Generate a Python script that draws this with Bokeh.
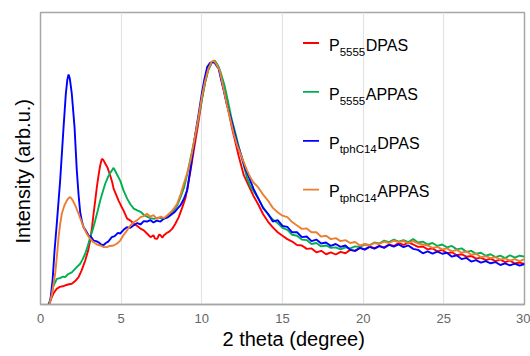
import math
from bokeh.plotting import figure
from bokeh.models import Range1d, FixedTicker, Label, Title
from bokeh.embed import file_html
from bokeh.resources import INLINE

# ---------------- data ----------------
theta_ticks = [0, 5, 10, 15, 20, 25, 30]

# shared 2-theta positions for the tails (13.2 .. 30.0)
tail_theta = [13.2, 13.5, 13.8, 14.1, 14.4, 14.7, 15.0, 15.3, 15.6, 15.9, 16.2, 16.5,
              16.8, 17.1, 17.4, 17.7, 18.0, 18.3, 18.6, 18.9, 19.2, 19.5, 19.8, 20.1,
              20.4, 20.7, 21.0, 21.3, 21.6, 21.9, 22.2, 22.5, 22.8, 23.1, 23.4, 23.7,
              24.0, 24.3, 24.6, 24.9, 25.2, 25.5, 25.8, 26.1, 26.4, 26.7, 27.0, 27.3,
              27.6, 27.9, 28.2, 28.5, 28.8, 29.1, 29.4, 29.7, 30.0]

# P5555DPAS (red)
red_theta = [0.5, 0.6, 0.8, 1.0, 1.2, 1.45, 1.7, 1.94, 2.15, 2.36, 2.55, 2.77, 2.95, 3.08,
             3.2, 3.29, 3.4, 3.49, 3.6, 3.7, 3.8, 3.9, 4.01, 4.15, 4.32, 4.45, 4.53, 4.7,
             4.84, 5.0, 5.15, 5.37, 5.58, 5.8, 6.0, 6.2, 6.4, 6.6, 6.82, 7.0, 7.1, 7.23,
             7.35, 7.44, 7.55, 7.64, 7.8, 8.0, 8.16, 8.35, 8.57, 8.8, 9.0, 9.3, 9.5, 9.75,
             10.0, 10.2, 10.4, 10.6, 10.75, 10.9, 11.05, 11.2, 11.36, 11.6, 11.88, 12.1,
             12.3, 12.6, 12.85]
red_int = [0, 1.5, 4.5, 6.4, 7.2, 7.6, 8.2, 8.5, 9.6, 11.2, 14, 18, 22, 26.2, 32, 37.3,
           43, 48, 53, 57, 59.7, 59.2, 57.8, 56.2, 52.9, 50.0, 47.5, 44.8, 42.6, 40.4,
           38.5, 35.2, 34.4, 33.0, 32.2, 31.1, 30.4, 29.1, 27.6, 28.4, 27.0, 26.9, 28.6,
           28.4, 27.4, 28.3, 29.2, 30.0, 31.0, 33.0, 35.8, 40.0, 44, 54.9, 63.1, 73, 84,
           91, 96.5, 99, 100, 98.5, 97, 93, 88, 81, 72, 66, 60.5, 53, 49.5]
red_tail = [44.5, 41.0, 37.0, 34.0, 31.6, 29.6, 28.2, 26.8, 25.8, 24.4, 24.2, 22.8, 23.0,
            21.4, 22.0, 20.6, 21.4, 20.5, 21.6, 21.0, 22.4, 22.0, 23.2, 22.6, 23.8, 23.0,
            24.0, 23.4, 24.6, 24.0, 25.2, 24.4, 25.4, 24.6, 23.6, 23.8, 22.6, 23.0, 21.8,
            22.4, 21.0, 21.4, 20.2, 20.6, 19.6, 19.9, 18.8, 19.2, 18.2, 18.8, 17.8, 18.4,
            17.4, 18.0, 16.8, 17.2, 16.6]

# P5555APPAS (green)
green_theta = [0.5, 0.65, 0.8, 1.01, 1.2, 1.4, 1.53, 1.7, 1.94, 2.2, 2.46, 2.6, 2.77, 2.93,
               3.08, 3.25, 3.39, 3.55, 3.7, 3.85, 4.01, 4.2, 4.35, 4.53, 4.65, 4.8, 4.94,
               5.15, 5.37, 5.58, 5.78, 6.0, 6.2, 6.4, 6.6, 6.8, 7.02, 7.3, 7.64, 7.95, 8.26,
               8.5, 8.68, 8.9, 9.1, 9.4, 9.7, 10.0, 10.2, 10.4, 10.6, 10.8, 11.0, 11.15,
               11.4, 11.6, 11.85, 12.09, 12.3, 12.5, 12.8, 13.0]
green_int = [0, 3, 7.5, 10.5, 10.8, 11.4, 11.2, 12.4, 13.2, 15.0, 16.7, 18.4, 20.8, 24,
             27.6, 31, 34.4, 38.5, 42.6, 46.0, 49.5, 52.5, 54.2, 56, 54.5, 52.6, 50.8, 46.7,
             43.4, 41.0, 39.3, 38.6, 38.0, 36.8, 36.0, 35.4, 35.1, 35.6, 35.1, 36.4, 38.5,
             41.0, 44, 48, 53.6, 63.1, 73, 84, 91, 96, 99, 100, 98, 95.5, 90, 84, 76, 70,
             64.5, 59.5, 52, 48.5]
green_tail = [46.5, 43.4, 39.8, 37.0, 34.8, 33.4, 31.4, 30.6, 28.6, 28.2, 26.6, 26.4, 24.8,
              25.2, 23.8, 24.2, 23.2, 23.4, 22.6, 23.4, 23.0, 23.8, 23.6, 24.6, 24.4, 25.4,
              25.0, 26.2, 25.6, 26.6, 25.8, 26.4, 25.6, 26.8, 25.4, 25.8, 24.6, 25.2, 24.0,
              24.6, 23.4, 24.0, 22.6, 23.0, 21.6, 22.0, 20.8, 21.2, 20.0, 20.6, 19.4, 20.0,
              19.0, 20.2, 19.2, 20.0, 19.6]

# PtphC14DPAS (blue)
blue_theta = [0.5, 0.6, 0.75, 0.87, 1.02, 1.22, 1.43, 1.57, 1.66, 1.74, 1.82, 1.94, 2.11,
              2.25, 2.36, 2.46, 2.57, 2.67, 2.8, 2.98, 3.15, 3.29, 3.45, 3.6, 3.75, 3.9,
              4.05, 4.2, 4.42, 4.6, 4.8, 4.94, 5.15, 5.35, 5.55, 5.78, 6.0, 6.2, 6.4, 6.6,
              6.8, 7.0, 7.2, 7.44, 7.65, 7.85, 8.06, 8.3, 8.5, 8.68, 8.9, 9.1, 9.35, 9.6,
              9.8, 10.0, 10.15, 10.33, 10.5, 10.64, 10.8, 10.9, 11.05, 11.2, 11.36, 11.55,
              11.78, 12.0, 12.2, 12.45, 12.7, 12.9]
blue_int = [0, 1, 10, 22, 34, 51, 72.7, 86.4, 92, 94.3, 92.5, 86.4, 72.7, 55, 45, 37.8, 34,
            31.7, 30.4, 28.3, 27.6, 26.2, 26.0, 25.5, 24.6, 24.3, 25.2, 25.8, 27.6, 28.0,
            29.4, 29.1, 30.6, 31.7, 31.4, 32.5, 33.4, 32.8, 34.2, 34.0, 34.6, 33.6, 34.4,
            34.0, 35.2, 35.6, 36.6, 37.8, 39.4, 40.7, 43.5, 47, 58, 70, 78, 86.5, 92, 97.3,
            99, 99.5, 99, 98, 96.5, 92, 87.7, 82, 76.8, 71, 65.9, 61, 55.5, 52.5]
blue_tail = [47.5, 43.5, 39.5, 37.2, 34.0, 34.6, 32.2, 31.8, 29.6, 29.6, 27.6, 27.9, 26.0,
             26.6, 25.0, 25.4, 24.0, 24.8, 23.6, 24.2, 22.4, 22.0, 23.2, 22.5, 23.6, 22.9,
             23.9, 23.2, 24.4, 23.7, 24.6, 23.5, 24.2, 22.8, 22.4, 21.0, 21.8, 20.9, 21.7,
             20.8, 21.2, 19.6, 20.2, 18.6, 19.1, 17.6, 18.2, 17.2, 17.8, 16.9, 17.4, 16.2,
             16.9, 16.0, 16.8, 15.9, 16.6]

# PtphC14APPAS (orange)
orange_theta = [0.55, 0.7, 0.91, 1.02, 1.12, 1.22, 1.32, 1.48, 1.63, 1.74, 1.84, 1.95, 2.05,
                2.15, 2.36, 2.56, 2.72, 2.87, 3.05, 3.29, 3.5, 3.7, 3.9, 4.11, 4.3, 4.53,
                4.75, 4.94, 5.15, 5.35, 5.55, 5.78, 6.0, 6.2, 6.4, 6.6, 6.8, 7.0, 7.23,
                7.45, 7.65, 7.85, 8.1, 8.3, 8.47, 8.7, 8.88, 9.1, 9.3, 9.55, 9.8, 10.0,
                10.2, 10.4, 10.6, 10.75, 10.9, 11.1, 11.3, 11.55, 11.8, 11.98, 12.2, 12.5,
                12.8, 13.0]
orange_int = [0, 4, 12.6, 20, 27.6, 33, 37.2, 40.6, 42.6, 43.6, 44, 43.2, 42.0, 40.6, 37.2,
              33.7, 31.0, 29.0, 27.2, 25.5, 24.6, 24.2, 23.6, 23.5, 24.0, 24.2, 25.0, 26.2,
              28.5, 30.3, 32.2, 33.7, 34.6, 35.8, 36.2, 37.2, 36.0, 36.6, 35.1, 36.0, 35.4,
              36.5, 38.0, 39.6, 41.3, 45.5, 49.5, 54, 59, 68, 77, 85, 91.5, 96.5, 99.5, 100,
              98.5, 96, 90, 82, 75, 70, 65, 60, 55, 52.2]
orange_tail = [50.0, 48.0, 45.0, 42.6, 39.6, 37.8, 36.4, 35.8, 33.8, 32.4, 31.0, 31.2, 29.6,
               29.6, 27.8, 28.2, 26.8, 27.2, 26.0, 26.4, 25.2, 25.6, 24.2, 24.8, 24.2, 25.2,
               24.8, 25.8, 25.2, 26.2, 25.6, 26.0, 25.2, 26.0, 25.0, 24.6, 24.2, 23.2, 23.6,
               22.6, 23.0, 21.8, 22.4, 21.2, 21.8, 20.4, 20.8, 19.4, 19.8, 19.0, 19.4, 18.4,
               18.9, 18.0, 18.6, 17.8, 18.6]

series_names_main = ["P", "P", "P", "P"]
series_names_sub = ["5555", "5555", "tphC14", "tphC14"]
series_names_rest = ["DPAS", "APPAS", "DPAS", "APPAS"]
series_colors = ["#FF0000", "#00B050", "#0000FF", "#ED7D31"]

# ---------------- layout ----------------
W, H = 530, 356
ML, MR, MT, MB = 40, 6, 12, 52
FW, FH = W - ML - MR, H - MT - MB
X0, X1 = 0, 30
Y0, Y1 = 0, 119.7
FONT = "Liberation Sans"

p = figure(width=W, height=H, output_backend="svg", toolbar_location=None,
           x_range=Range1d(X0, X1), y_range=Range1d(Y0, Y1),
           min_border_left=ML, min_border_right=MR, min_border_top=MT,
           min_border_bottom=MB)
p.background_fill_color = "white"
p.border_fill_color = "white"
p.outline_line_color = "#A6A6A6"
p.outline_line_width = 1.5

p.yaxis.visible = False
p.ygrid.visible = False
p.xaxis.ticker = FixedTicker(ticks=theta_ticks)
p.xgrid.ticker = FixedTicker(ticks=theta_ticks)
p.xgrid.grid_line_color = "#E3E3E3"
p.xgrid.grid_line_width = 1.2
p.xaxis.axis_line_color = "#A6A6A6"
p.xaxis.axis_line_width = 1.5
p.xaxis.major_tick_line_color = None
p.xaxis.minor_tick_line_color = None
p.xaxis.major_tick_out = 0
p.xaxis.major_tick_in = 0
p.xaxis.major_label_standoff = 9
p.xaxis.major_label_text_font = FONT
p.xaxis.major_label_text_font_size = "13px"
p.xaxis.major_label_text_color = "#666666"

series = [
    (red_theta + tail_theta, red_int + red_tail),
    (green_theta + tail_theta, green_int + green_tail),
    (blue_theta + tail_theta, blue_int + blue_tail),
    (orange_theta + tail_theta, orange_int + orange_tail),
]
for (xs, ys), c in zip(series, series_colors):
    p.line(xs, ys, line_color=c, line_width=1.9)

# axis titles as side titles (offset along the axis)
p.add_layout(Title(text="2 theta (degree)", align="left", offset=182, standoff=0,
                   vertical_align="bottom",
                   text_font=FONT, text_font_size="20px", text_font_style="normal",
                   text_color="#000000"), "below")
p.add_layout(Title(text="Intensity (arb.u.)", align="left", offset=61, standoff=13,
                   text_font=FONT, text_font_size="20px", text_font_style="normal",
                   text_color="#000000"), "left")


def dx(px):  # picture pixel -> data x
    return X0 + (px - ML) / FW * (X1 - X0)


def dy(py):  # picture pixel -> data y
    return Y0 + ((MT + FH) - py) / FH * (Y1 - Y0)


# manual legend with subscripts
CW = {'P': 0.667, '5': 0.556, '1': 0.556, '4': 0.556, 't': 0.278, 'p': 0.556,
      'h': 0.556, 'C': 0.722}
MAIN_FS, SUB_FS = 16, 11.5
for i, c in enumerate(series_colors):
    ly = 42.5 + i * 48.9
    p.segment(x0=[dx(302.5)], y0=[dy(ly)], x1=[dx(318.5)], y1=[dy(ly)],
              line_color=c, line_width=1.8)
    tx = 328.5
    p.add_layout(Label(x=dx(tx), y=dy(ly + 2.2), text=series_names_main[i], text_font=FONT,
                       text_font_size=f"{MAIN_FS}px", text_color="#000000",
                       text_baseline="middle"))
    tx += CW['P'] * MAIN_FS
    p.add_layout(Label(x=dx(tx), y=dy(ly + 8.6), text=series_names_sub[i], text_font=FONT,
                       text_font_size=f"{SUB_FS}px", text_color="#000000",
                       text_baseline="middle"))
    tx += sum(CW[ch] for ch in series_names_sub[i]) * SUB_FS + 0.5
    p.add_layout(Label(x=dx(tx), y=dy(ly + 2.2), text=series_names_rest[i], text_font=FONT,
                       text_font_size=f"{MAIN_FS}px", text_color="#000000",
                       text_baseline="middle"))

open("out.html", "w").write(file_html(p, INLINE))
